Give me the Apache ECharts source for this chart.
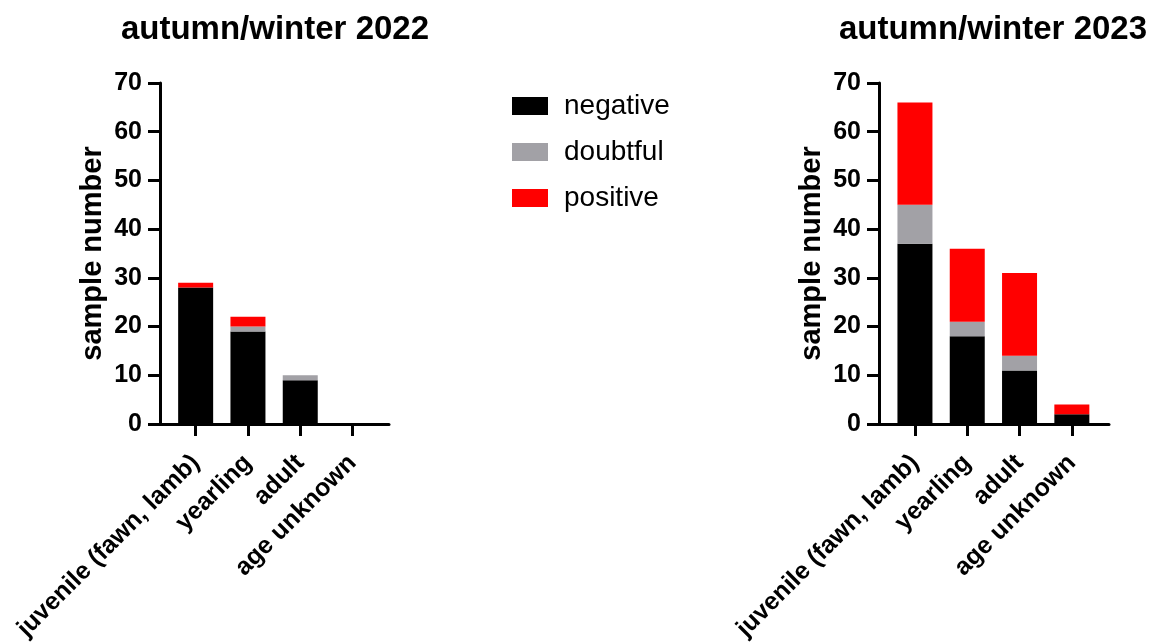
<!DOCTYPE html>
<html><head><meta charset="utf-8">
<script src="https://cdn.jsdelivr.net/npm/echarts@6/dist/echarts.min.js"></script>
<style>html,body{margin:0;padding:0;background:#fff}#c{width:1153px;height:644px}</style>
</head><body><div id="c"></div>
<script>
const categories = ['juvenile (fawn, lamb)', 'yearling', 'adult', 'age unknown'];
const yTicks = [0, 10, 20, 30, 40, 50, 60, 70];
const negative2022 = [28, 19, 9, 0];
const doubtful2022 = [0, 1, 1, 0];
const positive2022 = [1, 2, 0, 0];
const negative2023 = [37, 18, 11, 2];
const doubtful2023 = [8, 3, 3, 0];
const positive2023 = [21, 15, 17, 2];
const titles = ['autumn/winter 2022', 'autumn/winter 2023'];
const seriesNames = ['negative', 'doubtful', 'positive'];
const colors = ['#000000', '#a2a1a6', '#ff0000'];

const FONT = 'Liberation Sans, Arial, sans-serif';
const yMin = yTicks[0], yMax = yTicks[yTicks.length - 1];
const AX = {color: '#000', width: 3};

// frame grids (0,2) carry the y axis and the long x axis line; bar grids (1,3) carry categories
const grids = [
  {left: 160, top: 83, width: 229, height: 341},
  {left: 169.5, top: 83, width: 209.2, height: 341},
  {left: 879, top: 83, width: 230, height: 341},
  {left: 888.8, top: 83, width: 209.2, height: 341}
];

const xAxes = [], yAxes = [];
[0, 1].forEach(p => {
  const fg = p * 2, bg = p * 2 + 1;
  xAxes.push({
    gridIndex: fg, type: 'value', min: 0, max: 1,
    axisLine: {show: true, onZero: false, lineStyle: AX},
    axisTick: {show: false}, axisLabel: {show: false}, splitLine: {show: false}
  });
  xAxes.push({
    gridIndex: bg, type: 'category', data: categories,
    axisLine: {show: false},
    axisTick: {show: true, alignWithLabel: true, length: 12, lineStyle: AX},
    axisLabel: {
      interval: 0, rotate: 45, margin: 35,
      color: '#000', fontFamily: FONT, fontWeight: 'bold', fontSize: 25
    },
    splitLine: {show: false}
  });
  yAxes.push({
    gridIndex: fg, type: 'value', min: yMin, max: yMax, interval: 10,
    name: 'sample number', nameLocation: 'middle', nameRotate: 90, nameGap: 53,
    nameTextStyle: {color: '#000', fontFamily: FONT, fontWeight: 'bold', fontSize: 29},
    axisLine: {show: true, onZero: false, lineStyle: AX},
    axisTick: {show: true, length: 12, lineStyle: AX},
    axisLabel: {color: '#000', fontFamily: FONT, fontWeight: 'bold', fontSize: 25, margin: 18},
    splitLine: {show: false}
  });
  yAxes.push({
    gridIndex: bg, type: 'value', min: yMin, max: yMax, interval: 10, show: false
  });
});

const data = [
  [negative2022, doubtful2022, positive2022],
  [negative2023, doubtful2023, positive2023]
];
const series = [];
data.forEach((set, p) => {
  set.forEach((vals, si) => {
    series.push({
      name: seriesNames[si], type: 'bar', stack: 'g' + p,
      xAxisIndex: p * 2 + 1, yAxisIndex: p * 2 + 1, barWidth: 35,
      itemStyle: {color: colors[si]},
      data: vals
    });
  });
});

const chart = echarts.init(document.getElementById('c'), null, {renderer: 'canvas'});
chart.setOption({
  animation: false,
  backgroundColor: '#fff',
  title: [
    {text: titles[0], left: 270, top: 8, textAlign: 'center',
     textStyle: {color: '#000', fontFamily: FONT, fontWeight: 'bold', fontSize: 33}},
    {text: titles[1], left: 988, top: 8, textAlign: 'center',
     textStyle: {color: '#000', fontFamily: FONT, fontWeight: 'bold', fontSize: 33}}
  ],
  legend: {
    orient: 'vertical', left: 507, top: 87, itemWidth: 36, itemHeight: 18, itemGap: 18,
    icon: 'rect', data: seriesNames,
    textStyle: {color: '#000', fontFamily: FONT, fontSize: 28, padding: [0, 0, 0, 11]}
  },
  grid: grids,
  xAxis: xAxes,
  yAxis: yAxes,
  series: series
});
</script></body></html>
